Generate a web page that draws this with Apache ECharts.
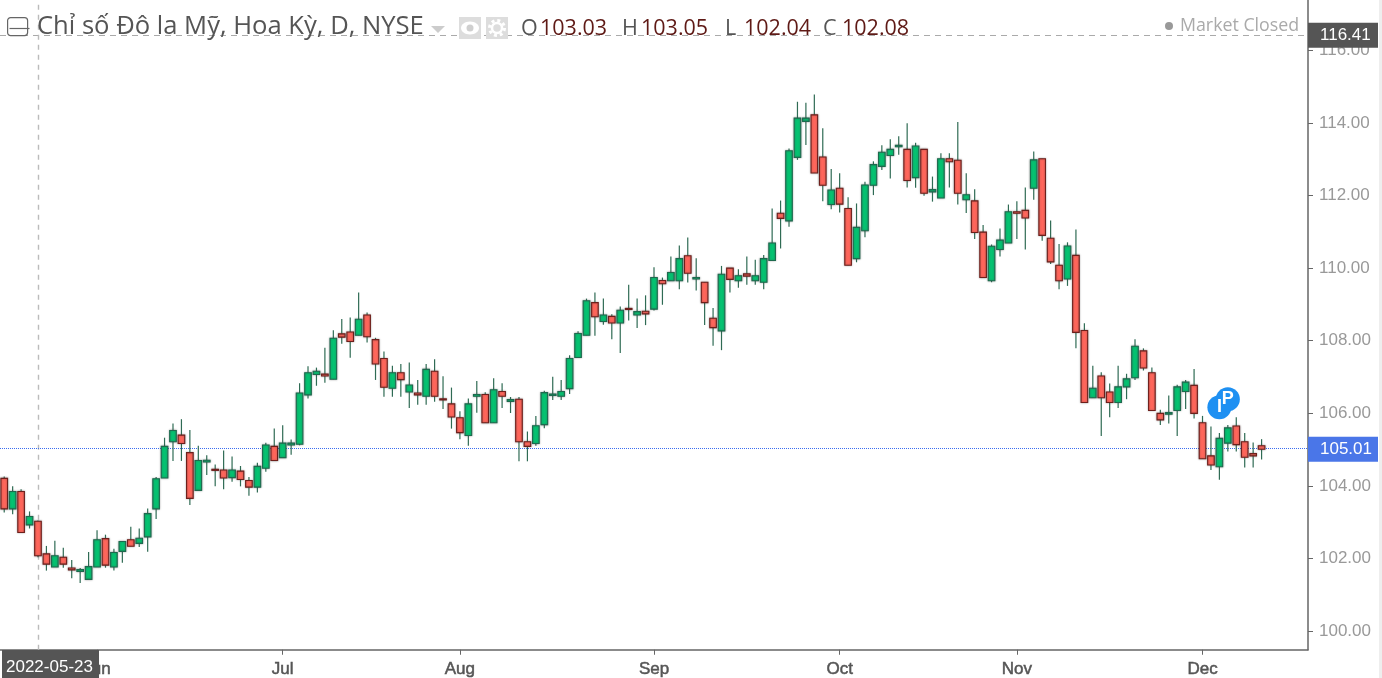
<!DOCTYPE html>
<html>
<head>
<meta charset="utf-8">
<style>html,body{margin:0;padding:0;background:#fff}#main{width:1382px;height:678px}</style>
<script src="https://cdn.jsdelivr.net/npm/echarts@6/dist/echarts.min.js"></script>
</head>
<body>
<div id="main"></div>
<script>
var dates = [
'2022-05-17','2022-05-18','2022-05-19','2022-05-20',
'2022-05-23','2022-05-24','2022-05-25','2022-05-26','2022-05-27',
'2022-05-30','2022-05-31','2022-06-01','2022-06-02','2022-06-03',
'2022-06-06','2022-06-07','2022-06-08','2022-06-09','2022-06-10',
'2022-06-13','2022-06-14','2022-06-15','2022-06-16','2022-06-17',
'2022-06-20','2022-06-21','2022-06-22','2022-06-23','2022-06-24',
'2022-06-27','2022-06-28','2022-06-29','2022-06-30','2022-07-01',
'2022-07-04','2022-07-05','2022-07-06','2022-07-07','2022-07-08',
'2022-07-11','2022-07-12','2022-07-13','2022-07-14','2022-07-15',
'2022-07-18','2022-07-19','2022-07-20','2022-07-21','2022-07-22',
'2022-07-25','2022-07-26','2022-07-27','2022-07-28','2022-07-29',
'2022-08-01','2022-08-02','2022-08-03','2022-08-04','2022-08-05',
'2022-08-08','2022-08-09','2022-08-10','2022-08-11','2022-08-12',
'2022-08-15','2022-08-16','2022-08-17','2022-08-18','2022-08-19',
'2022-08-22','2022-08-23','2022-08-24','2022-08-25','2022-08-26',
'2022-08-29','2022-08-30','2022-08-31','2022-09-01','2022-09-02',
'2022-09-05','2022-09-06','2022-09-07','2022-09-08','2022-09-09',
'2022-09-12','2022-09-13','2022-09-14','2022-09-15','2022-09-16',
'2022-09-19','2022-09-20','2022-09-21','2022-09-22','2022-09-23',
'2022-09-26','2022-09-27','2022-09-28','2022-09-29','2022-09-30',
'2022-10-03','2022-10-04','2022-10-05','2022-10-06','2022-10-07',
'2022-10-10','2022-10-11','2022-10-12','2022-10-13','2022-10-14',
'2022-10-17','2022-10-18','2022-10-19','2022-10-20','2022-10-21',
'2022-10-24','2022-10-25','2022-10-26','2022-10-27','2022-10-28',
'2022-10-31','2022-11-01','2022-11-02','2022-11-03','2022-11-04',
'2022-11-07','2022-11-08','2022-11-09','2022-11-10','2022-11-11',
'2022-11-14','2022-11-15','2022-11-16','2022-11-17','2022-11-18',
'2022-11-21','2022-11-22','2022-11-23','2022-11-24','2022-11-25',
'2022-11-28','2022-11-29','2022-11-30','2022-12-01','2022-12-02',
'2022-12-05','2022-12-06','2022-12-07','2022-12-08','2022-12-09',
'2022-12-12','2022-12-13','2022-12-14','2022-12-15','2022-12-16',
'2022-12-19'];

var opens = [
104.21,103.37,103.85,102.93,103.03,102.13,101.77,102.04,101.74,101.65,
101.43,101.77,102.55,101.77,102.20,102.52,102.42,102.60,103.37,104.22,
105.22,105.40,104.92,103.88,104.66,104.46,104.44,104.23,104.41,104.15,
103.97,104.49,105.09,104.78,105.13,105.15,106.51,107.07,107.08,106.94,
108.19,108.24,108.15,108.71,108.03,107.51,106.69,107.12,106.59,106.56,
106.47,107.16,106.40,106.26,105.88,105.39,106.47,106.52,105.74,106.60,
106.33,106.39,105.22,105.17,105.69,106.49,106.47,106.68,107.54,108.15,
109.05,108.53,108.67,108.49,108.89,108.71,108.81,108.87,109.66,109.65,
109.65,110.34,109.70,109.61,108.62,108.27,110.00,109.65,109.84,109.65,
109.61,110.21,111.51,111.30,113.05,114.04,114.22,113.06,111.75,112.20,
111.64,110.26,111.03,112.28,112.80,113.10,113.34,113.27,112.49,113.27,
112.10,111.93,113.01,112.97,111.88,111.85,110.99,109.65,110.51,110.69,
111.55,111.59,112.20,113.01,110.82,110.08,109.70,110.35,108.28,106.43,
107.03,106.59,106.30,106.73,106.98,107.72,107.12,106.00,105.98,106.08,
106.60,106.77,105.74,104.83,104.53,105.18,105.65,105.22,104.89,105.11];
var highs = [
104.26,103.99,103.91,103.30,103.05,102.35,102.49,102.30,101.96,101.74,
102.18,102.78,102.66,102.27,102.47,102.88,102.83,103.38,104.25,105.33,
105.72,105.84,105.54,105.11,104.85,104.59,104.98,104.81,104.55,104.25,
104.64,105.19,105.58,105.67,105.28,106.83,107.30,107.26,107.81,108.29,
108.60,108.64,109.33,108.78,108.08,107.70,107.31,107.36,107.40,106.92,
107.36,107.49,107.02,106.71,106.06,106.41,106.89,106.58,106.97,106.83,
106.45,106.45,105.50,105.93,106.62,107.01,106.92,107.60,108.26,109.16,
109.33,109.16,108.73,108.94,109.54,109.16,109.25,110.02,109.74,110.32,
110.62,110.84,110.27,109.61,108.90,110.06,110.00,109.97,110.32,110.23,
110.36,111.64,111.86,113.29,114.58,114.55,114.78,113.85,112.73,112.61,
111.95,111.78,112.38,112.94,113.38,113.55,113.63,113.99,113.45,113.27,
112.52,113.16,113.16,114.02,112.61,112.17,111.19,110.65,111.09,111.75,
111.84,112.22,113.21,113.01,111.31,110.66,110.71,111.06,108.48,107.31,
107.13,106.82,107.31,107.09,108.04,107.79,107.26,106.10,106.49,106.79,
106.92,107.22,105.93,105.64,105.46,105.68,105.89,105.46,105.20,105.29];
var lows = [
103.27,103.22,102.72,102.83,102.04,101.67,101.77,101.75,101.46,101.33,
101.43,101.77,101.75,101.67,101.89,102.34,102.32,102.19,103.09,104.22,
104.69,104.69,103.48,103.87,104.30,103.99,103.91,104.12,103.99,103.73,
103.82,104.39,104.70,104.78,104.86,105.12,106.41,106.76,106.84,106.94,
107.92,107.53,108.15,107.95,106.92,106.46,106.46,106.46,106.15,106.24,
106.24,106.32,106.12,105.58,105.29,105.11,106.02,105.74,105.74,106.15,
106.01,104.68,104.68,105.11,105.59,106.37,106.37,106.53,107.54,108.15,
108.14,108.44,108.04,107.66,108.56,108.35,108.43,108.83,108.99,109.65,
109.42,109.60,109.38,108.43,107.86,107.74,109.33,109.46,109.54,109.54,
109.42,110.21,110.54,111.14,112.98,113.39,112.62,111.84,111.62,111.53,
110.08,110.16,110.85,112.01,112.70,112.47,113.12,112.22,112.21,111.99,
111.83,111.93,112.22,111.75,111.52,110.80,109.74,109.61,110.32,110.69,
110.80,110.51,111.88,110.75,110.11,109.42,109.51,107.79,106.30,106.43,
105.38,105.89,106.15,106.39,106.92,107.18,106.08,105.68,105.72,105.38,
106.12,105.86,104.75,104.44,104.17,104.95,104.95,104.51,104.51,104.73];
var closes = [
103.37,103.85,102.72,103.16,102.08,101.85,102.08,101.85,101.69,101.70,
101.78,102.52,101.82,102.17,102.47,102.34,102.56,103.24,104.20,105.09,
105.53,105.17,103.66,104.70,104.71,104.43,104.22,104.44,104.18,103.97,
104.54,105.13,104.70,105.18,105.18,106.56,107.12,107.16,107.03,108.07,
108.10,107.98,108.59,108.11,107.36,106.72,107.12,106.93,106.78,106.51,
107.21,106.47,106.37,105.90,105.47,106.26,106.52,105.74,106.65,106.47,
106.38,105.22,105.09,105.66,106.57,106.53,106.60,107.51,108.20,109.10,
108.66,108.71,108.49,108.84,108.86,108.80,108.74,109.74,109.57,109.88,
110.26,109.86,109.74,109.05,108.36,109.83,109.69,109.79,109.78,109.79,
110.26,110.69,111.37,113.23,114.13,114.13,112.62,112.28,112.15,111.76,
110.08,111.12,112.29,112.85,113.19,113.27,113.38,112.41,113.36,112.06,
112.16,113.01,112.93,112.06,112.02,110.98,109.74,110.60,110.77,111.55,
111.51,111.38,112.98,110.90,110.17,109.65,110.61,108.23,106.30,106.69,
106.43,106.30,106.73,106.95,107.85,107.25,106.08,105.82,106.02,106.73,
106.86,106.00,104.75,104.58,105.31,105.60,105.14,104.79,104.83,105.01];

var priceTicks = [100,102,104,106,108,110,112,114,116];
var monthDates = ['2022-06-01','2022-07-01','2022-08-01','2022-09-01','2022-10-03','2022-11-01','2022-12-01'];
var monthNames = ['Jun','Jul','Aug','Sep','Oct','Nov','Dec'];

var eventDates = ['2022-12-05','2022-12-06'];
var eventPrices = [106.17,106.39];
var eventLetters = ['I','P'];

var crossDate = '2022-05-23';
var crossPrice = 116.41;
var lastPrice = 105.01;

// candles, wick always dark green, body border follows direction
var candleData = [];
for(var i=0;i<opens.length;i++){
	candleData.push([i,opens[i],highs[i],lows[i],closes[i]]);
}
function renderCandle(params,api){
	var i = api.value(0);
	var o = api.value(1), h = api.value(2), l = api.value(3), c = api.value(4);
	var x = api.coord([i,o])[0];
	var yTop = api.coord([i,Math.max(o,c)])[1];
	var yBot = api.coord([i,Math.min(o,c)])[1];
	var yHigh = api.coord([i,h])[1];
	var yLow = api.coord([i,l])[1];
	var w = 6.6;
	var up = c>=o;
	return {
		type:'group',
		children:[{
			type:'line',
			shape:{x1:x,y1:yHigh,x2:x,y2:yLow},
			style:{stroke:'#2f6b54',lineWidth:1.2}
		},{
			type:'rect',
			shape:{x:x-w/2,y:yTop,width:w,height:Math.max(yBot-yTop,1)},
			style:{
				fill:up?'#05c271':'#ff665b',
				stroke:up?'#1d6a4e':'#6e1f1b',
				lineWidth:1.1,
				shadowColor:'rgba(60,60,60,0.45)',
				shadowBlur:2
			}
		}]
	};
}
// last price line across the whole plot
function renderLastLine(params,api){
	var y = Math.round(api.coord([0,api.value(0)])[1])-0.5;
	return {
		type:'line',
		shape:{x1:params.coordSys.x,y1:y,x2:params.coordSys.x+params.coordSys.width,y2:y},
		style:{stroke:'#3a6df0',lineWidth:1,lineDash:[1,1]}
	};
}

var eventData = [];
for(var j=0;j<eventDates.length;j++){
	eventData.push({value:[eventDates[j],eventPrices[j]],label:{formatter:eventLetters[j]}});
}

var barNo = dates.indexOf(crossDate);
var headText = '#555555', headValue = '#5f1a16';
function ohlcItem(x,letter,val){
	return [{
		type:'text',left:x,top:18,z:50,
		style:{text:letter,font:'21.5px "Open Sans"',fill:headText}
	},{
		type:'text',left:x+19,top:18,z:50,
		style:{text:val.toFixed(2),font:'21.5px "Open Sans"',fill:headValue}
	}];
}
function boxLabel(txt,bg){
	return {show:true,position:'end',distance:0,formatter:txt,
		backgroundColor:bg,color:'#fff',fontFamily:'Liberation Sans',fontSize:17,
		align:'left',verticalAlign:'middle',width:58,height:25,lineHeight:25,padding:[0,0,0,12]};
}

var chart = echarts.init(document.getElementById('main'));
var option = {
	animation:false,
	backgroundColor:'#fff',
	grid:{left:0,top:0,width:1308,height:650,containLabel:false},
	xAxis:{
		type:'category',
		data:dates,
		boundaryGap:true,
		axisLine:{lineStyle:{color:'#666',width:1.5}},
		axisTick:{show:true,length:5,alignWithLabel:true,customValues:monthDates,lineStyle:{color:'#666'}},
		axisLabel:{
			customValues:monthDates,
			margin:11,
			fontFamily:'Liberation Sans',
			fontSize:17,
			color:'#555',
			textBorderColor:'#555',
			textBorderWidth:0.5,
			formatter:function(v){return monthNames[monthDates.indexOf(v)];}
		},
		splitLine:{show:false}
	},
	yAxis:{
		type:'value',
		position:'right',
		min:99.491,
		max:117.382,
		axisLine:{show:true,lineStyle:{color:'#666',width:1.5}},
		axisTick:{show:true,length:5,customValues:priceTicks,lineStyle:{color:'#666'}},
		axisLabel:{
			customValues:priceTicks,
			margin:11,
			fontFamily:'Liberation Sans',
			fontSize:17,
			color:'#999',
			padding:[2,0,0,0],
			formatter:function(v){return v.toFixed(2);}
		},
		splitLine:{show:false}
	},
	series:[{
		type:'custom',
		name:'last',
		renderItem:renderLastLine,
		encode:{y:0},
		data:[[lastPrice]],
		clip:false,
		z:3
	},{
		type:'custom',
		name:'DXY',
		renderItem:renderCandle,
		encode:{x:0,y:[1,2,3,4]},
		data:candleData,
		clip:false,
		z:5,
		markLine:{
			silent:true,
			symbol:'none',
			animation:false,
			z:3,
			data:[{
				yAxis:lastPrice,
				lineStyle:{color:'rgba(0,0,0,0)',width:0},
				label:boxLabel(lastPrice.toFixed(2),'#4a76e8')
			},{
				yAxis:crossPrice,
				lineStyle:{color:'#aaa',type:[6,5],width:1.2},
				label:boxLabel(crossPrice.toFixed(2),'#555')
			},{
				xAxis:crossDate,
				lineStyle:{color:'#bbb',type:[5,5],width:1.4},
				label:{show:false}
			}]
		}
	},{
		type:'scatter',
		name:'events',
		data:eventData,
		symbol:'circle',
		symbolSize:24,
		itemStyle:{color:'#1e90f2',opacity:1},
		label:{show:true,position:'inside',color:'#fff',fontFamily:'Liberation Sans',fontSize:18,fontWeight:'bold'},
		z:8
	}],
	graphic:[
		{type:'rect',left:1379,top:0,z:40,shape:{width:3,height:678},style:{fill:'#eeeeee'}},
		{type:'rect',left:7,top:17,z:50,shape:{width:20,height:18,r:3},style:{fill:'rgba(255,255,255,0)',stroke:'#666',lineWidth:1.2}},
		{type:'line',left:7,top:26,z:50,shape:{x1:0,y1:0,x2:20,y2:0},style:{stroke:'#666',lineWidth:1.2}},
		{type:'text',left:37,top:14,z:50,style:{text:'Chỉ số Đô la Mỹ, Hoa Kỳ, D, NYSE',font:'25.6px "Open Sans"',fill:headText}},
		{type:'polygon',z:50,shape:{points:[[431,26],[445,26],[438,33]]},style:{fill:'#cccccc'}},
		{type:'rect',left:459,top:17,z:50,shape:{width:22,height:22},style:{fill:'#dddddd'}},
		{type:'ellipse',z:51,shape:{cx:470,cy:28,rx:9,ry:6.5},style:{fill:'#ffffff'}},
		{type:'circle',z:52,shape:{cx:470,cy:28,r:3.5},style:{fill:'#cfcfcf'}},
		{type:'rect',left:486,top:17,z:50,shape:{width:22,height:22},style:{fill:'#dddddd'}},
		{type:'circle',z:51,shape:{cx:497,cy:28,r:7.5},style:{fill:'rgba(255,255,255,0)',stroke:'#fff',lineWidth:3,lineDash:[3,2.9]}},
		{type:'circle',z:51,shape:{cx:497,cy:28,r:5},style:{fill:'rgba(255,255,255,0)',stroke:'#fff',lineWidth:2.5}},
		{type:'circle',z:50,shape:{cx:1169,cy:26,r:4},style:{fill:'#999999'}},
		{type:'text',left:1180,top:17,z:50,style:{text:'Market Closed',font:'17.8px "Open Sans"',fill:'#aaaaaa'}},
		{type:'rect',left:2,top:650,z:50,shape:{width:97,height:28},style:{fill:'#555555'}},
		{type:'text',left:6,top:659,z:51,style:{text:crossDate,font:'17px "Liberation Sans"',fill:'#ffffff'}}
	].concat(
		ohlcItem(521,'O',opens[barNo]),
		ohlcItem(622,'H',highs[barNo]),
		ohlcItem(725,'L',lows[barNo]),
		ohlcItem(823,'C',closes[barNo])
	)
};
chart.setOption(option);
</script>
</body>
</html>
